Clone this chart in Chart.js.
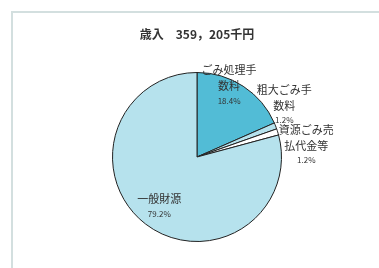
<!DOCTYPE html>
<html>
<head>
<meta charset="utf-8">
<script src="https://cdn.jsdelivr.net/npm/chart.js@4"></script>
<style>
  html, body { margin: 0; padding: 0; background: #fff; }
  #wrap { width: 379px; height: 268px; }
</style>
</head>
<body>
<div id="wrap"><canvas id="pieChart" width="379" height="268"></canvas></div>
<script>
// data
const titleText = "歳入　359，205千円";
const labels = [["ごみ処理手", "数料"], ["粗大ごみ手", "数料"], ["資源ごみ売", "払代金等"], ["一般財源"]];
const percents = [18.4, 1.2, 1.2, 79.2];
const colors = ["#52bcd6", "#b6e2ed", "#ffffff", "#b6e2ed"];

const FONT = "'Noto Sans CJK JP', sans-serif";

// frame around the chart
const framePlugin = {
  id: "frame",
  beforeDraw(chart) {
    const ctx = chart.ctx;
    ctx.save();
    ctx.strokeStyle = "#d3dfdf";
    ctx.lineWidth = 2;
    ctx.strokeRect(12, 12, 420, 320);
    ctx.restore();
  },
};

// slice labels, placed from each arc
const labelPlugin = {
  id: "sliceLabels",
  afterDraw(chart) {
    const ctx = chart.ctx;
    const arcs = chart.getDatasetMeta(0).data;
    // offsets relative to arc label anchor
    const shift = [[9, -52], [48, -52], [69, -15], [-12, 8]];
    ctx.save();
    ctx.fillStyle = "#333";
    ctx.textAlign = "center";
    ctx.textBaseline = "middle";
    arcs.forEach((arc, i) => {
      const p = arc.tooltipPosition();
      const x = p.x + shift[i][0];
      let y = p.y + shift[i][1];
      ctx.font = "11px " + FONT;
      labels[i].forEach((line) => {
        ctx.fillText(line, x, y);
        y += 16;
      });
      y -= 1;
      ctx.font = "8px " + FONT;
      ctx.fillText(percents[i].toFixed(1) + "%", x, y);
    });
    ctx.restore();
  },
};

new Chart(document.getElementById("pieChart").getContext("2d"), {
  type: "pie",
  data: {
    labels: labels.map((l) => l.join("")),
    datasets: [
      {
        data: percents,
        backgroundColor: colors,
        borderColor: "#222",
        borderWidth: 1,
      },
    ],
  },
  options: {
    responsive: false,
    animation: false,
    layout: { padding: { left: 15, right: 0, top: 0, bottom: 26 } },
    plugins: {
      legend: { display: false },
      tooltip: { enabled: false },
      title: {
        display: true,
        text: titleText,
        color: "#333",
        font: { family: FONT, size: 12, weight: "bold" },
        padding: { top: 27, bottom: 30.6 },
      },
    },
  },
  plugins: [framePlugin, labelPlugin],
});
</script>
</body>
</html>
